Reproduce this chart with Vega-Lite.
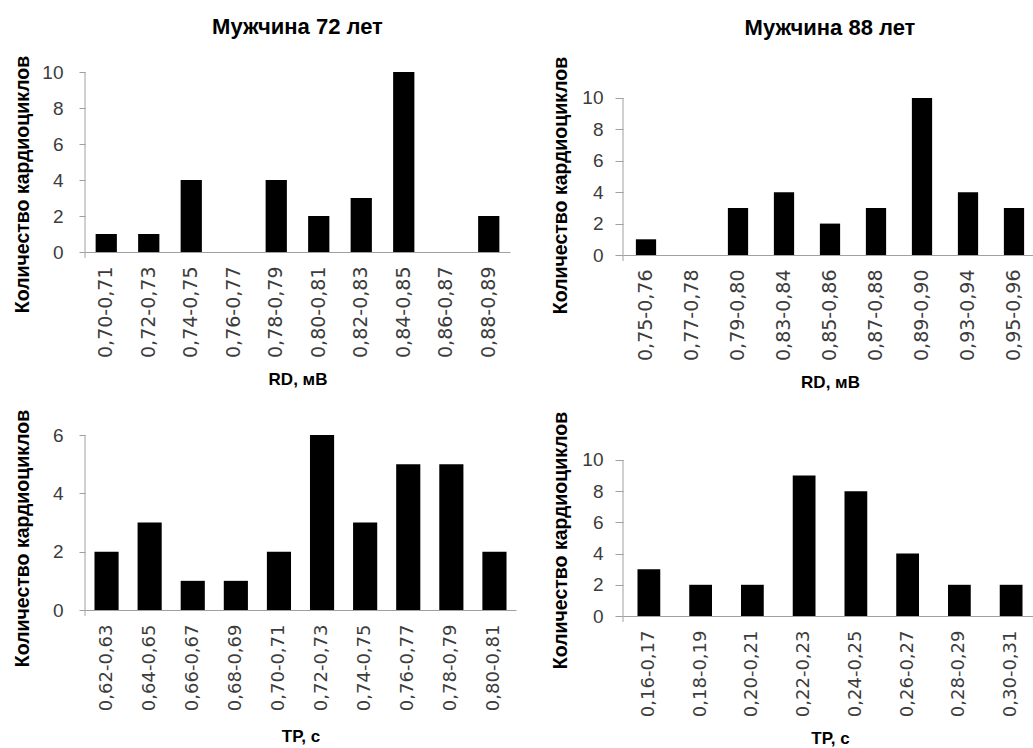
{
  "$schema": "https://vega.github.io/schema/vega-lite/v6.json",
  "padding": {"left": 11, "top": 15, "right": 0, "bottom": 0},
  "background": "white",
  "config": {
    "view": {"stroke": null},
    "font": "Liberation Sans",
    "axis": {
      "labelFont": "Liberation Sans",
      "titleFont": "Liberation Sans",
      "labelColor": "#3c3c3c",
      "titleColor": "#000000",
      "titleFontWeight": "bold",
      "domainColor": "#a0a0a0",
      "tickColor": "#a0a0a0",
      "grid": false,
      "labelOverlap": false
    },
    "axisX": {
      "labelAngle": -90,
      "labelFont": "DejaVu Sans",
      "labelFontSize": 19,
      "labelPadding": 14,
      "ticks": false,
      "titleFontSize": 17,
      "titlePadding": 14
    },
    "axisY": {
      "labelFontSize": 19,
      "tickSize": 6,
      "labelPadding": 16,
      "titleFontSize": 19.5,
      "titleBaseline": "alphabetic",
      "domain": false
    },
    "title": {"font": "Liberation Sans", "fontSize": 22, "fontWeight": "bold", "color": "#000000", "frame": "group", "anchor": "middle"},
    "bar": {"color": "#000000"},
    "rule": {"color": "#a0a0a0", "strokeWidth": 1}
  },
  "datasets": {
    "tl": [
      {"bin": "0,70-0,71", "count": 1},
      {"bin": "0,72-0,73", "count": 1},
      {"bin": "0,74-0,75", "count": 4},
      {"bin": "0,76-0,77", "count": 0},
      {"bin": "0,78-0,79", "count": 4},
      {"bin": "0,80-0,81", "count": 2},
      {"bin": "0,82-0,83", "count": 3},
      {"bin": "0,84-0,85", "count": 10},
      {"bin": "0,86-0,87", "count": 0},
      {"bin": "0,88-0,89", "count": 2}
    ],
    "tr": [
      {"bin": "0,75-0,76", "count": 1},
      {"bin": "0,77-0,78", "count": 0},
      {"bin": "0,79-0,80", "count": 3},
      {"bin": "0,83-0,84", "count": 4},
      {"bin": "0,85-0,86", "count": 2},
      {"bin": "0,87-0,88", "count": 3},
      {"bin": "0,89-0,90", "count": 10},
      {"bin": "0,93-0,94", "count": 4},
      {"bin": "0,95-0,96", "count": 3}
    ],
    "bl": [
      {"bin": "0,62-0,63", "count": 2},
      {"bin": "0,64-0,65", "count": 3},
      {"bin": "0,66-0,67", "count": 1},
      {"bin": "0,68-0,69", "count": 1},
      {"bin": "0,70-0,71", "count": 2},
      {"bin": "0,72-0,73", "count": 6},
      {"bin": "0,74-0,75", "count": 3},
      {"bin": "0,76-0,77", "count": 5},
      {"bin": "0,78-0,79", "count": 5},
      {"bin": "0,80-0,81", "count": 2}
    ],
    "br": [
      {"bin": "0,16-0,17", "count": 3},
      {"bin": "0,18-0,19", "count": 2},
      {"bin": "0,20-0,21", "count": 2},
      {"bin": "0,22-0,23", "count": 9},
      {"bin": "0,24-0,25", "count": 8},
      {"bin": "0,26-0,27", "count": 4},
      {"bin": "0,28-0,29", "count": 2},
      {"bin": "0,30-0,31", "count": 2}
    ],
    "line_tl": [{"count": -0.33, "top": 10}],
    "line_bl": [{"count": -0.2, "top": 6}],
    "line_tr": [{"count": -0.38, "top": 10}],
    "line_br": [{"count": -0.38, "top": 10}]
  },
  "spacing": 33,
  "hconcat": [
    {
      "spacing": 21,
      "vconcat": [
        {
          "width": 425,
          "height": 180,
          "title": {"text": "Мужчина 72 лет", "offset": 16.5},
          "encoding": {
            "y": {"field": "count", "type": "quantitative",
                  "scale": {"domain": [0, 10], "nice": false},
                  "axis": {"title": "Количество кардиоциклов", "values": [0, 2, 4, 6, 8, 10], "titleX": -57, "titleY": 112}}
          },
          "layer": [
            {
              "data": {"name": "tl"},
              "mark": {"type": "bar"},
              "encoding": {
                "x": {"field": "bin", "type": "nominal", "sort": null,
                      "scale": {"paddingInner": 0.5, "paddingOuter": 0.25},
                      "axis": {"title": "RD, мВ"}}
              }
            },
            {
              "data": {"name": "line_tl"},
              "mark": {"type": "rule"},
              "encoding": {"x": {"value": 0}, "y2": {"field": "top"}}
            }
          ]
        },
        {
          "width": 431,
          "height": 175,
          "encoding": {
            "y": {"field": "count", "type": "quantitative",
                  "scale": {"domain": [0, 6], "nice": false},
                  "axis": {"title": "Количество кардиоциклов", "values": [0, 2, 4, 6], "titleX": -57, "titleY": 103}}
          },
          "layer": [
            {
              "data": {"name": "bl"},
              "mark": {"type": "bar"},
              "encoding": {
                "x": {"field": "bin", "type": "nominal", "sort": null,
                      "scale": {"paddingInner": 0.44, "paddingOuter": 0.22},
                      "axis": {"title": "TP, с", "labelFontSize": 18, "titlePadding": 18}}
              }
            },
            {
              "data": {"name": "line_bl"},
              "mark": {"type": "rule"},
              "encoding": {"x": {"value": 0}, "y2": {"field": "top"}}
            }
          ]
        }
      ]
    },
    {
      "spacing": 20,
      "vconcat": [
        {
          "width": 414,
          "height": 183,
          "title": {"text": "Мужчина 88 лет", "offset": 16},
          "encoding": {
            "y": {"field": "count", "type": "quantitative",
                  "scale": {"domain": [0, 11.656], "nice": false},
                  "axis": {"title": "Количество кардиоциклов", "values": [0, 2, 4, 6, 8, 10], "titleX": -57, "titleY": 113, "tickSize": 8, "labelPadding": 12}}
          },
          "layer": [
            {
              "data": {"name": "tr"},
              "mark": {"type": "bar"},
              "encoding": {
                "x": {"field": "bin", "type": "nominal", "sort": null,
                      "scale": {"paddingInner": 0.56, "paddingOuter": 0.28},
                      "axis": {"title": "RD, мВ"}}
              }
            },
            {
              "data": {"name": "line_tr"},
              "mark": {"type": "rule"},
              "encoding": {"x": {"value": 0}, "y2": {"field": "top"}}
            }
          ]
        },
        {
          "width": 414,
          "height": 179,
          "encoding": {
            "y": {"field": "count", "type": "quantitative",
                  "scale": {"domain": [0, 11.47], "nice": false},
                  "axis": {"title": "Количество кардиоциклов", "values": [0, 2, 4, 6, 8, 10], "titleX": -57, "titleY": 103, "tickSize": 8, "labelPadding": 12}}
          },
          "layer": [
            {
              "data": {"name": "br"},
              "mark": {"type": "bar"},
              "encoding": {
                "x": {"field": "bin", "type": "nominal", "sort": null,
                      "scale": {"paddingInner": 0.56, "paddingOuter": 0.28},
                      "axis": {"title": "TP, с", "labelFontSize": 18}}
              }
            },
            {
              "data": {"name": "line_br"},
              "mark": {"type": "rule"},
              "encoding": {"x": {"value": 0}, "y2": {"field": "top"}}
            }
          ]
        }
      ]
    }
  ]
}
